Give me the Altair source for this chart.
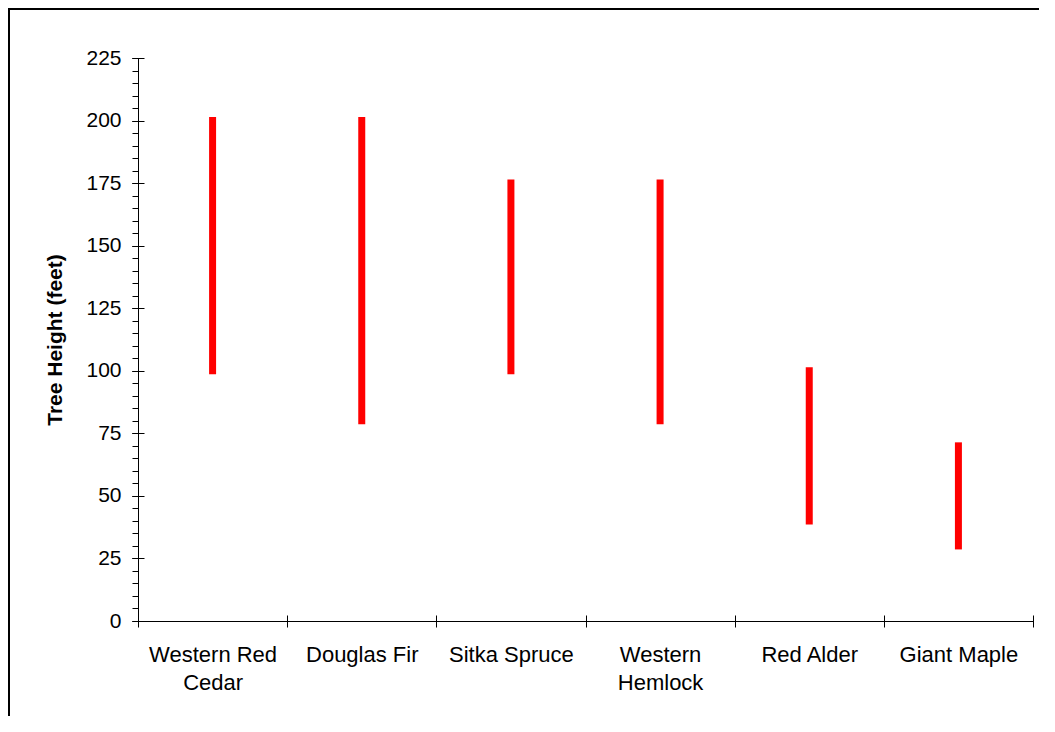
import json
import altair as alt
import pandas as pd

# ---- data ----
species = ["Western Red Cedar", "Douglas Fir", "Sitka Spruce",
           "Western Hemlock", "Red Alder", "Giant Maple"]
label_lines = [["Western Red", "Cedar"], ["Douglas Fir"], ["Sitka Spruce"],
               ["Western", "Hemlock"], ["Red Alder"], ["Giant Maple"]]
low_ft = [100, 80, 100, 80, 40, 30]
high_ft = [200, 200, 175, 175, 100, 70]
major_ticks = [0, 25, 50, 75, 100, 125, 150, 175, 200, 225]
minor_ticks = list(range(0, 230, 5))
boundaries = [0, 1, 2, 3, 4, 5, 6]

df = pd.DataFrame({
    "species": species,
    "pos": [i + 0.5 for i in range(len(species))],
    "low": low_ft,
    "high": high_ft,
})

FONT = "Liberation Sans"
W, H = 895, 563

xscale = alt.Scale(domain=[0, len(species)], nice=False, zero=False)
yscale = alt.Scale(domain=[0, 225], nice=False, zero=True)

label_expr = json.dumps(label_lines) + "[floor(datum.value)]"

base = alt.Chart(df)

bars = base.mark_rule(color="#FF0000", strokeWidth=7, strokeCap="square").encode(
    x=alt.X("pos:Q", scale=xscale,
            axis=alt.Axis(orient="bottom", values=df["pos"].tolist(), labelExpr=label_expr,
                          ticks=False, tickSize=0, domain=True, domainColor="black",
                          domainWidth=1, grid=False, labelFontSize=22, labelFont=FONT,
                          labelColor="black", labelPadding=23, labelLineHeight=28,
                          labelOverlap=False, labelFlush=False, labelBound=False,
                          title=None)),
    y=alt.Y("low:Q", scale=yscale,
            axis=alt.Axis(orient="left", values=major_ticks, tickSize=6, tickColor="black",
                          domain=True, domainColor="black", grid=False,
                          labelFontSize=21, labelFont=FONT, labelColor="black",
                          labelPadding=11, labelFlush=False, labelOverlap=False,
                          title="Tree Height (feet)", titleFont=FONT, titleFontSize=21,
                          titleFontWeight="bold", titleColor="black", titlePadding=20)),
    y2="high:Q",
)

x_ticks = base.mark_point(opacity=0).encode(
    x=alt.X("pos:Q", scale=xscale,
            axis=alt.Axis(orient="bottom", values=boundaries, labels=False, domain=False,
                          grid=False, tickSize=12, offset=-6, tickColor="black", title=None)),
)

y_major = base.mark_point(opacity=0).encode(
    y=alt.Y("low:Q", scale=yscale,
            axis=alt.Axis(orient="left", values=major_ticks, labels=False, domain=False,
                          grid=False, tickSize=12, offset=-6, tickColor="black", title=None)),
)

y_minor = base.mark_point(opacity=0).encode(
    y=alt.Y("low:Q", scale=yscale,
            axis=alt.Axis(orient="left", values=minor_ticks, labels=False, domain=False,
                          grid=False, tickSize=6, tickColor="black", title=None)),
)

one = pd.DataFrame({"a": [0]})
frame_top = alt.Chart(one).mark_rule(color="black", strokeWidth=2).encode(
    x=alt.value(-129), x2=alt.value(W + 10), y=alt.value(-49))
frame_left = alt.Chart(one).mark_rule(color="black", strokeWidth=2).encode(
    x=alt.value(-129), y=alt.value(-50), y2=alt.value(H + 100))

chart = alt.layer(bars, x_ticks, y_major, y_minor, frame_top, frame_left).resolve_axis(
    x="independent", y="independent"
).properties(
    width=W, height=H,
    background="white",
    autosize=alt.AutoSizeParams(type="none"),
    padding={"left": 130, "top": 50, "right": 6, "bottom": 95},
).configure_view(stroke="transparent", strokeWidth=0)

chart.save("out.html", embed_options={"renderer": "svg", "actions": False})
